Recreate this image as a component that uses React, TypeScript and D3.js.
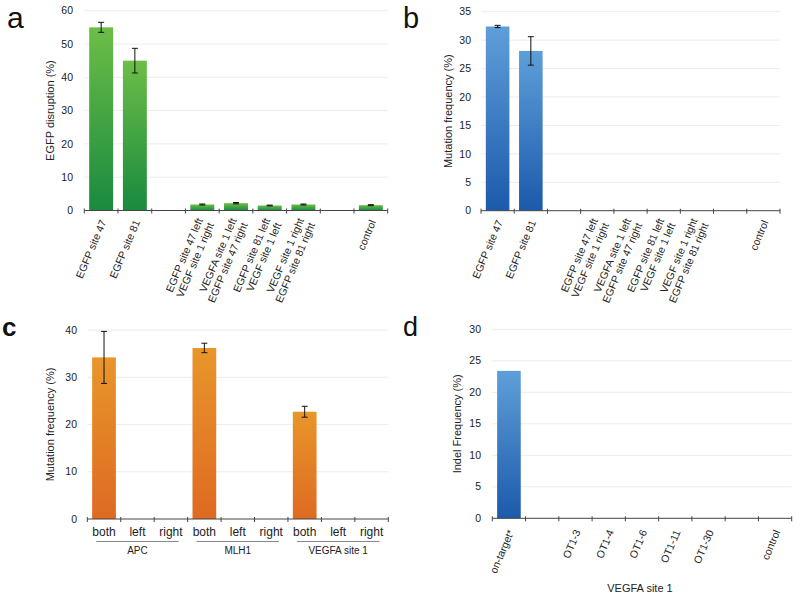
import React from "react";
import * as d3 from "d3";

// ---------- DATA ----------
const aLabels: string[][] = [
  ["EGFP site 47"],
  ["EGFP site 81"],
  [],
  ["EGFP site 47 left", "VEGF site 1 right"],
  ["VEGFA site 1 left", "EGFP site 47 right"],
  ["EGFP site 81 left", "VEGF site 1 left"],
  ["VEGF site 1 right", "EGFP site 81 right"],
  [],
  ["control"],
];
const aValues: (number | null)[] = [55, 45, null, 1.8, 2.2, 1.5, 1.8, null, 1.6];
const aErrors: (number | null)[] = [1.5, 3.7, null, 0.15, 0.2, 0.12, 0.15, null, 0.15];
const aTicks = [0, 10, 20, 30, 40, 50, 60];

const bLabels = aLabels;
const bValues: (number | null)[] = [32.4, 28.1, null, 0, 0, 0, 0, null, 0];
const bErrors: (number | null)[] = [0.2, 2.5, null, null, null, null, null, null, null];
const bTicks = [0, 5, 10, 15, 20, 25, 30, 35];

const cSubLabels = ["both", "left", "right", "both", "left", "right", "both", "left", "right"];
const cGroups = ["APC", "MLH1", "VEGFA site 1"];
const cValues: (number | null)[] = [34.2, 0, 0, 36.2, 0, 0, 22.7, 0, 0];
const cErrors: (number | null)[] = [5.5, null, null, 1.0, null, null, 1.15, null, null];
const cTicks = [0, 10, 20, 30, 40];

const dLabels: string[][] = [["on-target*"], [], ["OT1-3"], ["OT1-4"], ["OT1-6"], ["OT1-11"], ["OT1-30"], [], ["control"]];
const dValues: (number | null)[] = [23.4, null, 0, 0, 0, 0, 0, null, 0];
const dTicks = [0, 5, 10, 15, 20, 25, 30];

const FONT = "'Liberation Sans', Arial, Helvetica, sans-serif";

type PanelProps = {
  id: string;
  x0: number;
  x1: number;
  y0: number;
  yTop: number;
  maxV: number;
  ticks: number[];
  values: (number | null)[];
  errors?: (number | null)[];
  grad: string;
  yTitle: string;
  titleX: number;
  tickRight: number;
  labels?: string[][];
  labelOffset?: number;
};

function Panel(p: PanelProps) {
  const idx = p.values.map((_, i) => String(i));
  const x = d3.scaleBand<string>().domain(idx).range([p.x0, p.x1]).paddingInner(0.29).paddingOuter(0.145);
  const y = d3.scaleLinear().domain([0, p.maxV]).range([p.y0, p.yTop]);
  const step = x.step();
  const boundaries = d3.range(idx.length + 1).map((i) => p.x0 + i * step);
  const titleY = (p.y0 + p.yTop) / 2;
  const lo = p.labelOffset ?? 10;
  return (
    <g>
      {p.ticks.filter((t) => t > 0).map((t) => (
        <line key={"g" + t} x1={p.x0} x2={p.x1} y1={y(t)} y2={y(t)} stroke="#ececec" strokeWidth={1} />
      ))}
      {p.ticks.map((t) => (
        <text key={"t" + t} x={p.tickRight} y={y(t)} dy="0.35em" textAnchor="end" fontSize={10.5} fill="#222" fontFamily={FONT}>
          {t}
        </text>
      ))}
      <text
        transform={`translate(${p.titleX},${titleY}) rotate(-90)`}
        textAnchor="middle"
        dy="0.35em"
        fontSize={11}
        fill="#222"
        fontFamily={FONT}
      >
        {p.yTitle}
      </text>
      {p.values.map((v, i) =>
        v !== null && v > 0 ? (
          <rect key={"b" + i} x={x(String(i))} y={y(v)} width={x.bandwidth()} height={p.y0 - y(v)} fill={`url(#${p.grad})`} />
        ) : null
      )}
      {p.errors &&
        p.errors.map((e, i) => {
          const v = p.values[i];
          if (e === null || v === null) return null;
          const cx = (x(String(i)) as number) + x.bandwidth() / 2;
          return (
            <g key={"e" + i} stroke="#111" strokeWidth={1}>
              <line x1={cx} x2={cx} y1={y(v + e)} y2={y(v - e)} />
              <line x1={cx - 3} x2={cx + 3} y1={y(v + e)} y2={y(v + e)} />
              <line x1={cx - 3} x2={cx + 3} y1={y(v - e)} y2={y(v - e)} />
            </g>
          );
        })}
      <line x1={p.x0} x2={p.x1} y1={p.y0} y2={p.y0} stroke="#444" strokeWidth={1} />
      {boundaries.map((bx, i) => (
        <line key={"k" + i} x1={bx} x2={bx} y1={p.y0 - 2} y2={p.y0 + 3} stroke="#444" strokeWidth={1} />
      ))}
      {p.labels &&
        p.labels.map((ls, i) => {
          if (!ls.length) return null;
          const cx = (x(String(i)) as number) + x.bandwidth() / 2;
          const offs = ls.length === 1 ? [0] : [-5, 7];
          return (
            <g key={"l" + i} transform={`translate(${cx + 2},${p.y0 + lo}) rotate(-67)`}>
              {ls.map((s, j) => (
                <text key={j} x={0} y={offs[j]} dy="0.35em" textAnchor="end" fontSize={10.5} fill="#222" fontFamily={FONT}>
                  {s}
                </text>
              ))}
            </g>
          );
        })}
    </g>
  );
}

export default function App() {
  const cx0 = 87.3,
    cx1 = 388.3;
  const cBand = d3.scaleBand<string>().domain(cSubLabels.map((_, i) => String(i))).range([cx0, cx1]);
  const cStep = cBand.step();
  return (
    <svg width={800} height={603} style={{ position: "absolute", left: 0, top: 0 }} fontFamily={FONT}>
      <defs>
        <linearGradient id="gGreen" x1="0" y1="0" x2="0" y2="1">
          <stop offset="0" stopColor="#6cbe47" />
          <stop offset="1" stopColor="#198a3f" />
        </linearGradient>
        <linearGradient id="gBlue" x1="0" y1="0" x2="0" y2="1">
          <stop offset="0" stopColor="#5e9fd9" />
          <stop offset="1" stopColor="#1c5aab" />
        </linearGradient>
        <linearGradient id="gOrange" x1="0" y1="0" x2="0" y2="1">
          <stop offset="0" stopColor="#e8962a" />
          <stop offset="1" stopColor="#de6a22" />
        </linearGradient>
      </defs>
      <rect width={800} height={603} fill="#fff" />

      <text x={7} y={28} fontSize={30} fill="#111">a</text>
      <text x={403} y={28} fontSize={29} fill="#111">b</text>
      <text x={2} y={336} fontSize={26} fontWeight="bold" fill="#111">c</text>
      <text x={403} y={336} fontSize={27} fill="#111">d</text>

      <Panel id="a" x0={84.3} x1={387.7} y0={210.5} yTop={10.7} maxV={60} ticks={aTicks} values={aValues} errors={aErrors}
        grad="gGreen" yTitle="EGFP disruption (%)" titleX={50} tickRight={73} labels={aLabels} />
      <Panel id="b" x0={481} x1={780} y0={210.7} yTop={11.7} maxV={35} ticks={bTicks} values={bValues} errors={bErrors}
        grad="gBlue" yTitle="Mutation frequency (%)" titleX={448} tickRight={471} labels={bLabels} />
      <Panel id="c" x0={cx0} x1={cx1} y0={519} yTop={330} maxV={40} ticks={cTicks} values={cValues} errors={cErrors}
        grad="gOrange" yTitle="Mutation frequency (%)" titleX={50} tickRight={77} />
      {cSubLabels.map((s, i) => (
        <text key={"cs" + i} x={(cBand(String(i)) as number) + cStep / 2} y={536} textAnchor="middle" fontSize={12} fill="#222">
          {s}
        </text>
      ))}
      {cGroups.map((g, gi) => {
        const left = cx0 + gi * 3 * cStep + 9;
        const right = cx0 + (gi + 1) * 3 * cStep - 9;
        return (
          <g key={"cg" + gi}>
            <line x1={left} x2={right} y1={541.5} y2={541.5} stroke="#888" strokeWidth={1} />
            <text x={(left + right) / 2} y={554} textAnchor="middle" fontSize={10} fill="#222">
              {g}
            </text>
          </g>
        );
      })}
      <Panel id="d" x0={492.3} x1={791.7} y0={518.3} yTop={329.3} maxV={30} ticks={dTicks} values={dValues}
        grad="gBlue" yTitle="Indel Frequency (%)" titleX={457} tickRight={481} labels={dLabels} labelOffset={12} />
      <text x={640} y={592} textAnchor="middle" fontSize={11} fill="#222">
        VEGFA site 1
      </text>
    </svg>
  );
}
